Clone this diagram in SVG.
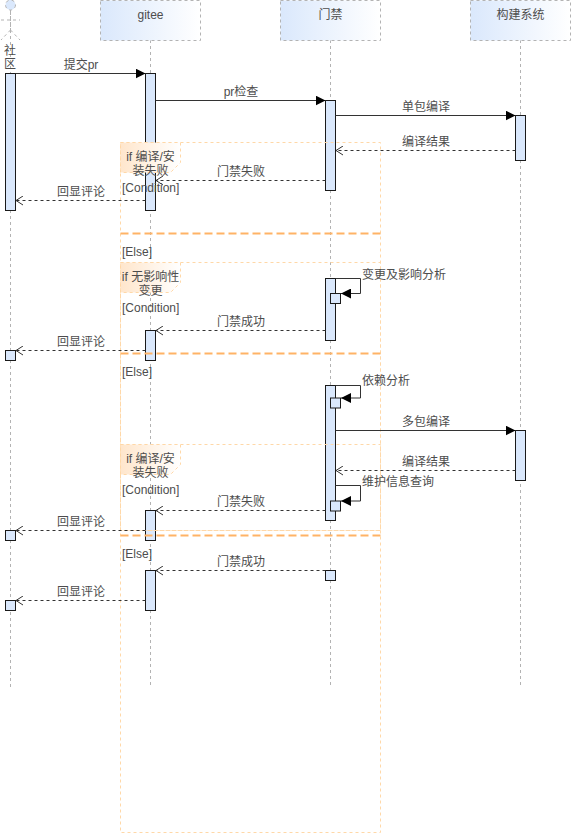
<svg xmlns="http://www.w3.org/2000/svg" width="571" height="833" viewBox="0 0 571 833">
<style>
text{font-family:"Liberation Sans","Noto Sans CJK SC",sans-serif;font-size:12px;fill:#4d4d4d;text-anchor:middle}
.l{text-anchor:start}
.ll{stroke:#b3b3b3;stroke-dasharray:3 3;fill:none}
.hd{fill:url(#b);stroke:#b3b3b3;stroke-dasharray:3 3}
.ac{fill:#dae8fc;stroke:#1a1a1a}
.fr{fill:none;stroke:#ffd8a8;stroke-dasharray:3 3}
.tag{fill:url(#o);stroke:#ffd8a8;stroke-dasharray:3 3}
.sep{stroke:#ffb366;stroke-width:2;stroke-dasharray:8 4;fill:none}
.m{stroke:#333;fill:none;marker-end:url(#s)}
.r{stroke:#333;fill:none;stroke-dasharray:3 3;marker-end:url(#d)}
</style>
<defs>
<linearGradient id="b"><stop offset="0" stop-color="#dae8fc"/><stop offset="1" stop-color="#fff"/></linearGradient>
<linearGradient id="o"><stop offset="0" stop-color="#ffe6cc"/><stop offset="1" stop-color="#fff"/></linearGradient>
<marker id="s" viewBox="0 0 10 10" refX="10" refY="5" markerWidth="10" markerHeight="10" markerUnits="userSpaceOnUse" orient="auto"><path d="M0 0L10 5L0 10Z" fill="#000"/></marker>
<marker id="d" viewBox="0 0 9 10" refX="8" refY="5" markerWidth="9" markerHeight="10" markerUnits="userSpaceOnUse" orient="auto"><path d="M1 0.5L8 5L1 9.5" fill="none" stroke="#333"/></marker>
</defs>
<g id="lifelines">
<path class="ll" d="M10.5 12V687M150.5 40V687M330.5 40V687M520.5 40V687"/>
</g>
<g id="actor-community">
<circle cx="10.5" cy="5" r="5" fill="#dae8fc" stroke="#b3b3b3" stroke-dasharray="3 3"/>
<path class="ll" d="M10.5 10V30M1 20H20M10.5 30L1 40M10.5 30L20 40"/>
<text x="10" y="55">社</text><text x="10" y="68">区</text>
</g>
<g id="gitee"><rect class="hd" x="100.5" y="0.5" width="100" height="40"/><text x="150.5" y="19">gitee</text></g>
<g id="gate"><rect class="hd" x="280.5" y="0.5" width="100" height="40"/><text x="330.5" y="19">门禁</text></g>
<g id="build"><rect class="hd" x="470.5" y="0.5" width="100" height="40"/><text x="520.5" y="19">构建系统</text></g>
<g id="activations">
<rect class="ac" x="5.5" y="73.5" width="10" height="137"/>
<rect class="ac" x="145.5" y="73.5" width="10" height="137"/>
<rect class="ac" x="325.5" y="100.5" width="10" height="90"/>
<rect class="ac" x="515.5" y="115.5" width="10" height="45"/>
<rect class="ac" x="325.5" y="278.5" width="10" height="62"/>
<rect class="ac" x="330.5" y="293.5" width="10" height="10"/>
<rect class="ac" x="145.5" y="330.5" width="10" height="30"/>
<rect class="ac" x="5.5" y="350.5" width="10" height="10"/>
<rect class="ac" x="325.5" y="385.5" width="10" height="135"/>
<rect class="ac" x="330.5" y="398" width="10" height="10"/>
<rect class="ac" x="515.5" y="430.5" width="10" height="50"/>
<rect class="ac" x="330.5" y="501" width="10" height="10"/>
<rect class="ac" x="145.5" y="510.5" width="10" height="30"/>
<rect class="ac" x="5.5" y="530.5" width="10" height="10"/>
<rect class="ac" x="325.5" y="570.5" width="10" height="10"/>
<rect class="ac" x="145.5" y="570.5" width="10" height="40"/>
<rect class="ac" x="5.5" y="600.5" width="10" height="10"/>
</g>
<g id="frames">
<rect class="fr" x="120.5" y="142.5" width="260" height="690"/>
<rect class="fr" x="120.5" y="262.5" width="260" height="268"/>
<rect class="fr" x="120.5" y="444.5" width="260" height="86"/>
<path class="tag" d="M120.5 142.5H180.5V162.5L170.5 172.5H120.5Z"/>
<path class="tag" d="M120.5 262.5H180.5V282.5L170.5 292.5H120.5Z"/>
<path class="tag" d="M120.5 444.5H180.5V464.5L170.5 474.5H120.5Z"/>
<path class="sep" d="M120.5 233.5H380.5M120.5 353.5H380.5M120.5 535.5H380.5"/>
<text x="150.5" y="161">if 编译/安</text><text x="150.5" y="175">装失败</text>
<text class="l" x="122" y="192">[Condition]</text>
<text class="l" x="122" y="256">[Else]</text>
<text x="150.5" y="281">if 无影响性</text><text x="150.5" y="295">变更</text>
<text class="l" x="122" y="312">[Condition]</text>
<text class="l" x="122" y="376">[Else]</text>
<text x="150.5" y="463">if 编译/安</text><text x="150.5" y="477">装失败</text>
<text class="l" x="122" y="494">[Condition]</text>
<text class="l" x="122" y="558">[Else]</text>
</g>
<g id="connectors">
<path class="m" d="M15.5 73.5H145.5"/>
<path class="m" d="M155.5 100.5H325.5"/>
<path class="m" d="M335.5 115.5H515.5"/>
<path class="r" d="M515.5 150.5H336"/>
<path class="r" d="M325.5 180.5H156"/>
<path class="r" d="M145.5 200.5H16"/>
<path class="m" d="M335.5 278.5H360.5V293.5H341"/>
<path class="r" d="M325.5 330.5H156"/>
<path class="r" d="M145.5 350.5H16"/>
<path class="m" d="M335.5 385.5H360.5V398H341"/>
<path class="m" d="M335.5 430.5H515.5"/>
<path class="r" d="M515.5 470.5H336"/>
<path class="m" d="M335.5 485.5H360.5V501H341"/>
<path class="r" d="M325.5 510.5H156"/>
<path class="r" d="M145.5 530.5H16"/>
<path class="r" d="M325.5 570.5H156"/>
<path class="r" d="M145.5 600.5H16"/>
</g>
<g id="connector-labels">
<text x="81" y="69">提交pr</text>
<text x="241" y="96">pr检查</text>
<text x="426" y="111">单包编译</text>
<text x="426" y="146">编译结果</text>
<text x="241" y="176">门禁失败</text>
<text x="81" y="196">回显评论</text>
<text class="l" x="362" y="279">变更及影响分析</text>
<text x="241" y="326">门禁成功</text>
<text x="81" y="346">回显评论</text>
<text class="l" x="362" y="385">依赖分析</text>
<text x="426" y="426">多包编译</text>
<text x="426" y="466">编译结果</text>
<text class="l" x="362" y="486">维护信息查询</text>
<text x="241" y="506">门禁失败</text>
<text x="81" y="526">回显评论</text>
<text x="241" y="566">门禁成功</text>
<text x="81" y="596">回显评论</text>
</g>
</svg>
